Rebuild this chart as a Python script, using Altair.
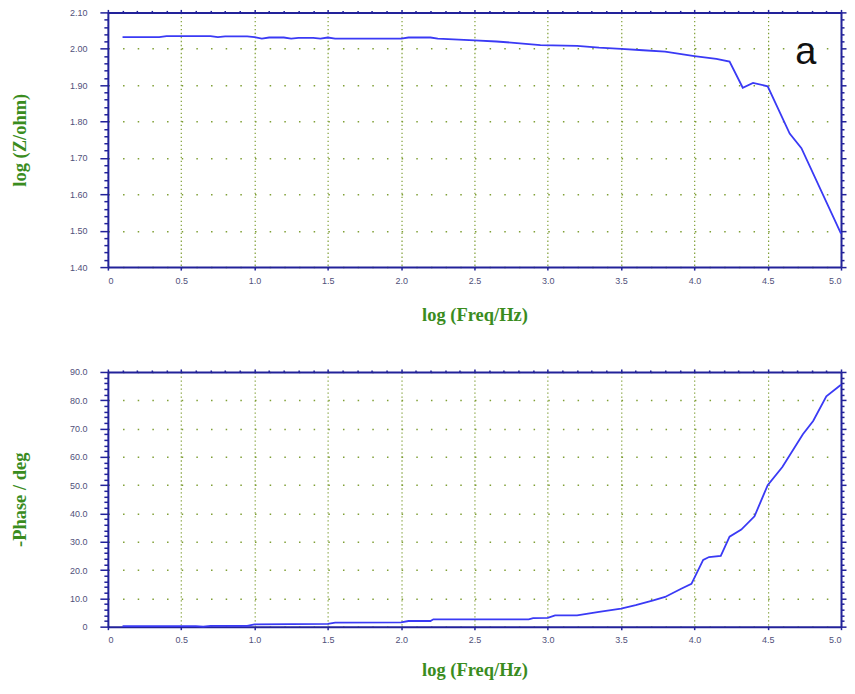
import altair as alt
import pandas as pd

# ---- data ----
freq_top = [0.10, 0.35, 0.40, 0.70, 0.75, 0.80, 0.95, 1.00, 1.05, 1.10, 1.20, 1.25,
            1.30, 1.40, 1.45, 1.50, 1.55, 2.00, 2.05, 2.20, 2.25, 2.50, 2.65, 2.75,
            2.95, 3.20, 3.35, 3.50, 3.65, 3.80, 4.00, 4.15, 4.24, 4.33, 4.40, 4.50,
            4.65, 4.73, 5.00]
logz = [2.032, 2.032, 2.035, 2.035, 2.032, 2.034, 2.034, 2.032, 2.028, 2.031, 2.031, 2.028,
        2.030, 2.030, 2.028, 2.031, 2.028, 2.028, 2.031, 2.031, 2.028, 2.023, 2.020, 2.017,
        2.010, 2.008, 2.003, 2.000, 1.996, 1.992, 1.980, 1.972, 1.965, 1.893, 1.906, 1.897,
        1.767, 1.727, 1.492]

freq_bot = [0.10, 0.60, 0.65, 0.70, 0.95, 1.00, 1.50, 1.55, 2.00, 2.05, 2.20, 2.22,
            2.87, 2.90, 3.00, 3.05, 3.20, 3.35, 3.50, 3.60, 3.72, 3.80, 3.91, 3.98,
            4.06, 4.10, 4.18, 4.24, 4.32, 4.41, 4.50, 4.60, 4.74, 4.81, 4.90, 5.00]
phase = [0.2, 0.2, 0.0, 0.3, 0.3, 0.8, 1.0, 1.4, 1.5, 2.0, 2.0, 2.6,
         2.6, 3.0, 3.1, 4.0, 4.0, 5.2, 6.4, 7.6, 9.3, 10.5, 13.4, 15.1,
         23.6, 24.6, 25.0, 31.8, 34.3, 39.0, 50.0, 56.4, 68.0, 72.7, 81.4, 85.5]

panel_label = ["a"]
panel_label_x = [4.76]
panel_label_y = [1.957]

x_title = "log (Freq/Hz)"
y_title_top = "log (Z/ohm)"
y_title_bot = "-Phase / deg"

# tick positions
x_minor = [round(i * 0.1, 2) for i in range(51)]
x_major = [round(i * 0.5, 2) for i in range(11)]
ytop_ticks = [round(1.40 + i * 0.02, 2) for i in range(36)]
ybot_ticks = list(range(0, 91, 2))

NAVY = "#22229a"
LINE = "#3a3af5"
GREEN = "#3a8c1e"
GRID = "#7f9f35"
LABEL = "#50507a"

df_top = pd.DataFrame({"f": freq_top, "v": logz})
df_bot = pd.DataFrame({"f": freq_bot, "v": phase})
df_lab = pd.DataFrame({"t": panel_label, "x": panel_label_x, "y": panel_label_y})

W, H = 734, 255

x_major_test = "abs(datum.value*2 - round(datum.value*2)) < 0.001"
ytop_major_test = "abs(datum.value*10 - round(datum.value*10)) < 0.001"
ybot_major_test = "datum.value % 10 == 0"


def x_bottom_axis(title_y):
    return alt.Axis(
        values=x_major, title=x_title, orient="bottom",
        labelExpr="datum.value == 0 ? '0' : format(datum.value, '.1f')",
        tickSize=3, labelPadding=10, labelBaseline="middle", labelOverlap=False,
        grid=True, gridColor=GRID, gridDash=[1.3, 2.7], gridWidth=1.2,
        titleY=title_y, titleBaseline="middle",
    )


def x_top_axis():
    return alt.Axis(
        values=x_minor, orient="top", title=None, labels=False, grid=False,
        tickSize={"condition": {"test": x_major_test, "value": 3}, "value": 2},
    )


def y_left_axis(ticks, test, fmt_expr, title):
    return alt.Axis(
        values=ticks, orient="left", title=title,
        labelExpr=f"({test}) ? ({fmt_expr}) : ''",
        tickSize={"condition": {"test": test, "value": 8}, "value": 4},
        labelPadding=13, labelOverlap=False,
        grid=True, gridColor=GRID, gridDash=[1.5, 13.18], gridWidth=1.5,
        gridOpacity={"condition": {"test": test, "value": 1}, "value": 0},
        titleX=-88, titleY=H / 2, titleBaseline="middle",
    )


def y_right_axis(ticks, test):
    return alt.Axis(
        values=ticks, orient="right", title=None, labels=False, grid=False,
        tickSize={"condition": {"test": test, "value": 5}, "value": 3},
    )


def panel(df, ydomain, yticks, ytest, yfmt, ytitle, title_y, label=False):
    xs = alt.Scale(domain=[0, 5], nice=False, zero=False)
    ys = alt.Scale(domain=ydomain, nice=False, zero=False)
    line = alt.Chart(df).mark_line(color=LINE, strokeWidth=1.8).encode(
        x=alt.X("f:Q", scale=xs, axis=x_bottom_axis(title_y)),
        y=alt.Y("v:Q", scale=ys, axis=y_left_axis(yticks, ytest, yfmt, ytitle)),
    )
    frame = alt.Chart(df).mark_line(opacity=0).encode(
        x=alt.X("f:Q", scale=xs, axis=x_top_axis()),
        y=alt.Y("v:Q", scale=ys, axis=y_right_axis(yticks, ytest)),
    )
    layers = [line, frame]
    if label:
        txt = alt.Chart(df_lab).mark_text(
            fontSize=38, font="Liberation Sans", color="#111111", baseline="alphabetic"
        ).encode(
            x=alt.X("x:Q", scale=xs, axis=None),
            y=alt.Y("y:Q", scale=ys, axis=None),
            text="t:N",
        )
        layers.append(txt)
    ch = alt.layer(*layers).resolve_axis(x="independent", y="independent")
    return ch.properties(width=W, height=H)


top = panel(df_top, [1.40, 2.10], ytop_ticks, ytop_major_test,
            "format(datum.value, '.2f')", y_title_top, 47, label=True)
bot = panel(df_bot, [0, 90], ybot_ticks, ybot_major_test,
            "datum.value == 0 ? '0' : format(datum.value, '.1f')", y_title_bot, 43)

chart = alt.vconcat(top, bot, spacing=44).properties(
    padding={"left": 2, "top": 0, "right": 0, "bottom": 0}
).configure_view(strokeWidth=0).configure_axis(
    domainColor=NAVY, domainWidth=2, tickColor=NAVY, tickWidth=1.5,
    labelColor=LABEL, labelFont="Liberation Sans", labelFontSize=9,
    titleColor=GREEN, titleFont="Liberation Serif", titleFontWeight="bold", titleFontSize=18.5,
)

chart.save("out.html", embed_options={"renderer": "svg", "actions": False})
